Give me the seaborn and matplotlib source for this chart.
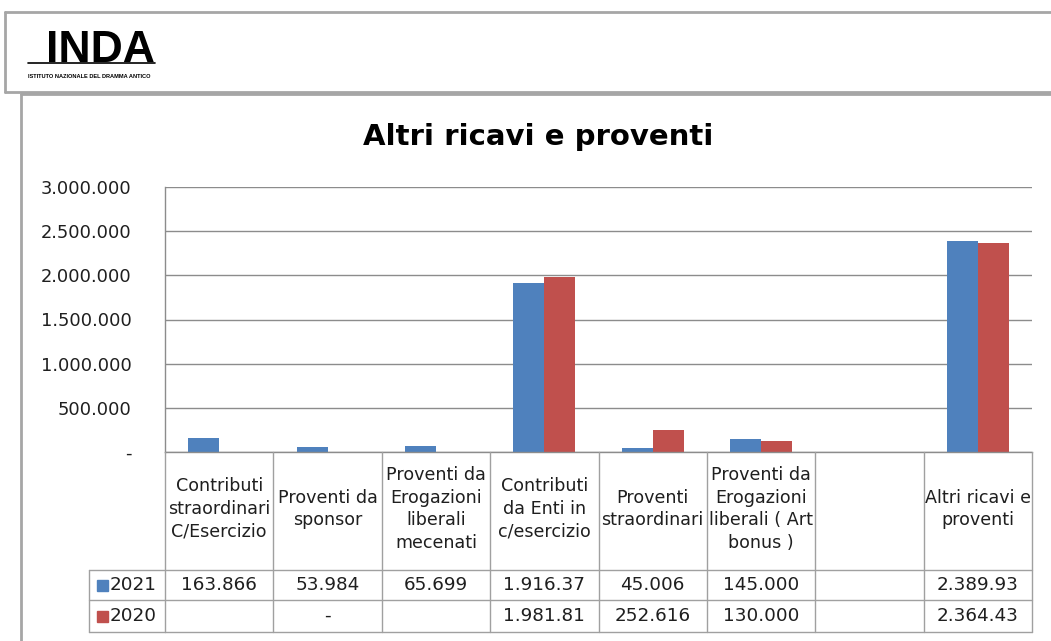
import numpy as np
import pandas as pd
import matplotlib
matplotlib.use("Agg")
import matplotlib.pyplot as plt
import seaborn as sns
from matplotlib.transforms import blended_transform_factory
from matplotlib.patches import Rectangle
from matplotlib.lines import Line2D
from matplotlib.ticker import FuncFormatter

# ---------------- data ----------------
categories = [
    "Contributi\nstraordinari\nC/Esercizio",
    "Proventi da\nsponsor",
    "Proventi da\nErogazioni\nliberali\nmecenati",
    "Contributi\nda Enti in\nc/esercizio",
    "Proventi\nstraordinari",
    "Proventi da\nErogazioni\nliberali ( Art\nbonus )",
    " ",
    "Altri ricavi e\nproventi",
]
years = ["2021", "2020"]
values_2021 = [163866, 53984, 65699, 1916370, 45006, 145000, np.nan, 2389930]
values_2020 = [np.nan, 0, np.nan, 1981810, 252616, 130000, np.nan, 2364430]
table_2021 = ["163.866", "53.984", "65.699", "1.916.37", "45.006", "145.000", "", "2.389.93"]
table_2020 = ["", "-", "", "1.981.81", "252.616", "130.000", "", "2.364.43"]
yticks = [0, 500000, 1000000, 1500000, 2000000, 2500000, 3000000]
colors = ["#4F81BD", "#C0504D"]
title = "Altri ricavi e proventi"

df = pd.DataFrame({
    "categoria": categories * 2,
    "anno": [years[0]] * len(categories) + [years[1]] * len(categories),
    "valore": values_2021 + values_2020,
}).dropna()

# ---------------- figure ----------------
W, H = 1051, 641
sns.set_theme(style="white")
FONT = ["DejaVu Sans"]
plt.rcParams["font.family"] = FONT
fig = plt.figure(figsize=(W / 100, H / 100), dpi=100)

def fx(x):
    return x / W

def fy(y):
    return 1 - y / H

FRAME = "#A6A6A6"
GRID = "#8C8C8C"
TXT = "#1F1F1F"

# decorative frames
for (x0, y0, x1, y1, lw) in [
    (5, 12, W, 12, 2.0), (5, 12, 5, 92, 2.0), (5, 92, W, 92, 2.0),
    (21, 94, W, 94, 2.0), (21, 94, 21, H, 2.0),
]:
    fig.add_artist(Line2D([fx(x0), fx(x1)], [fy(y0), fy(y1)], color=FRAME, lw=lw))

# logo (text)
LOGO_FONT = ["Liberation Sans Narrow", "Liberation Sans"]
fig.text(fx(46), fy(62), "INDA", fontsize=32, fontweight="bold", color="black",
         family=LOGO_FONT, va="baseline", ha="left")
fig.add_artist(Line2D([fx(28), fx(155)], [fy(63), fy(63)], color="black", lw=1.2))
fig.text(fx(28), fy(76), "ISTITUTO NAZIONALE DEL DRAMMA ANTICO", fontsize=4.1,
         fontweight="bold", color="black", family=LOGO_FONT, va="center", ha="left")

# title
fig.text(fx(538), fy(137), title, fontsize=21, fontweight="bold", color="black",
         ha="center", va="center")

# main axes
ax_left, ax_right, ax_top, ax_bottom = 165, 1032, 187, 452
ax = fig.add_axes([fx(ax_left), fy(ax_bottom), fx(ax_right - ax_left), (ax_bottom - ax_top) / H])
sns.barplot(data=df, x="categoria", y="valore", hue="anno", order=categories,
            hue_order=years, palette=colors, width=0.57, gap=0, saturation=1,
            ax=ax, legend=False, edgecolor="none")
ax.set_xlim(-0.5, len(categories) - 0.5)
ax.set_ylim(yticks[0], yticks[-1])
ax.set_yticks(yticks)
ax.yaxis.set_major_formatter(FuncFormatter(
    lambda v, p: "-" if v == 0 else f"{int(v):,}".replace(",", ".")))
ax.tick_params(axis="y", length=0, pad=24, labelsize=12.9, labelcolor=TXT)
ax.set_xticks([])
ax.set_xlabel("")
ax.set_ylabel("")
ax.grid(axis="y", color=GRID, lw=1)
ax.set_axisbelow(True)
for s in ["top", "right"]:
    ax.spines[s].set_visible(False)
for s in ["left", "bottom"]:
    ax.spines[s].set_color(GRID)
    ax.spines[s].set_linewidth(1)

# ---------------- data table ----------------
tr = blended_transform_factory(ax.transData, fig.transFigure)
TBL = "#A0A0A0"
n = len(categories)
y_hdr_top, y_r1, y_r2, y_bot = 452, 570, 600, 632
for i in range(n + 1):
    fig.add_artist(Line2D([i - 0.5, i - 0.5], [fy(y_hdr_top), fy(y_bot)], color=TBL, lw=1,
                          transform=tr))
x_rh = 89
fig.add_artist(Line2D([fx(x_rh), fx(x_rh)], [fy(y_r1), fy(y_bot)], color=TBL, lw=1))
for yy in [y_r1, y_r2, y_bot]:
    fig.add_artist(Line2D([fx(x_rh), fx(ax_left)], [fy(yy), fy(yy)], color=TBL, lw=1))
    fig.add_artist(Line2D([-0.5, n - 0.5], [fy(yy), fy(yy)], color=TBL, lw=1, transform=tr))

for i, lab in enumerate(categories):
    fig.text(i, fy(509), lab.strip(), transform=tr, ha="center",
             va="center", fontsize=12.6, color=TXT, linespacing=1.33)
for row, (labels, yc) in enumerate([(table_2021, (y_r1 + y_r2) / 2),
                                     (table_2020, (y_r2 + y_bot) / 2)]):
    for i, t in enumerate(labels):
        if t:
            fig.text(i, fy(yc), t, transform=tr, ha="center", va="center",
                     fontsize=13.2, color=TXT)
    fig.add_artist(Rectangle((fx(97), fy(yc + 6)), 11 / W, 11 / H, color=colors[row]))
    fig.text(fx(110), fy(yc), years[row], ha="left", va="center", fontsize=13.2, color=TXT)

fig.savefig("out.png", dpi=100)
